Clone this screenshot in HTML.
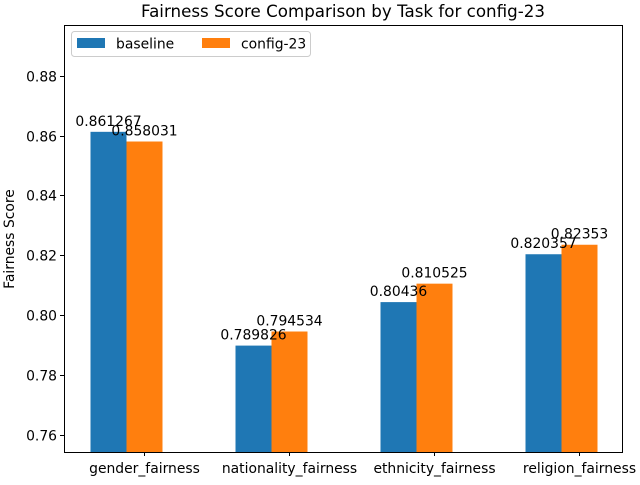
<!DOCTYPE html>
<html><head><meta charset="utf-8"><style>
body{margin:0;background:#fff}
svg text{font-family:"DejaVu Sans","Liberation Sans",sans-serif;fill:#000}
</style></head><body>
<svg id="chart" width="640" height="480" xmlns="http://www.w3.org/2000/svg">
<rect width="640" height="480" fill="#fff"/>
<text x="343" y="17" font-size="16.7" text-anchor="middle">Fairness Score Comparison by Task for config-23</text>
<g id="marks"></g>
<g id="labels"></g>
<rect x="64.5" y="25.5" width="558" height="427" fill="none" stroke="#000" stroke-width="1"/>
<text transform="translate(14,239) rotate(-90)" font-size="13.9" text-anchor="middle">Fairness Score</text>
<g>
<rect x="71.5" y="31.5" width="239" height="25" rx="3" fill="#fff" fill-opacity="0.8" stroke="#ccc"/>
<rect x="77" y="38" width="28" height="10" fill="#1f77b4"/>
<text x="116" y="48.5" font-size="13.9">baseline</text>
<rect x="202" y="38" width="28" height="10" fill="#ff7f0e"/>
<text x="241" y="48.5" font-size="13.9">config-23</text>
</g>
</svg>
<script>
const categories=["gender_fairness","nationality_fairness","ethnicity_fairness","religion_fairness"];
const baseline=[0.861267,0.789826,0.80436,0.820357];
const config23=[0.858031,0.794534,0.810525,0.82353];
const baselineLabels=["0.861267","0.789826","0.80436","0.820357"];
const configLabels=["0.858031","0.794534","0.810525","0.82353"];
const yTicks=[0.76,0.78,0.80,0.82,0.84,0.86,0.88];
const yTickLabels=["0.76","0.78","0.80","0.82","0.84","0.86","0.88"];
const yMin=0.7541,yMax=0.8968;
const plotTop=25.5,plotBottom=452.5;
function yScale(v){return plotBottom-(v-yMin)/(yMax-yMin)*(plotBottom-plotTop);}
function xc(i){return 144.5+i*145;}
const g=document.getElementById('marks');
const gl=document.getElementById('labels');
const NS='http://www.w3.org/2000/svg';
function mk(t,a,p){const e=document.createElementNS(NS,t);for(const k in a)e.setAttribute(k,a[k]);(p||g).appendChild(e);return e;}
yTicks.forEach((v,i)=>{
  const yy=Math.round(yScale(v))+0.5;
  const t=mk('line',{x1:60,x2:64,y1:yy,y2:yy,stroke:'#000'});
  
  
  const l=mk('text',{x:57,y:yy+5,'font-size':13.9,'text-anchor':'end'});l.textContent=yTickLabels[i];
  
  
});
categories.forEach((c,i)=>{
  const cx=xc(i);
  const t=mk('line',{x1:cx,x2:cx,y1:452,y2:456,stroke:'#000'});
  
  
  const l=mk('text',{x:cx,y:473,'font-size':13.9,'text-anchor':'middle'});l.textContent=c;
  
  
  [[baseline,'#1f77b4',-54,baselineLabels,'baseline'],[config23,'#ff7f0e',-18,configLabels,'config']].forEach(s=>{
    const v=s[0][i],yt=yScale(v);
    const b=mk('rect',{x:cx+s[2],y:yt,width:36,height:plotBottom-yt,fill:s[1]});
    
    
    const tl=mk('text',{x:cx+s[2]+18,y:yt-6,'font-size':13.9,'text-anchor':'middle'},gl);tl.textContent=s[3][i];
    
    
  });
});
</script>
</body></html>
